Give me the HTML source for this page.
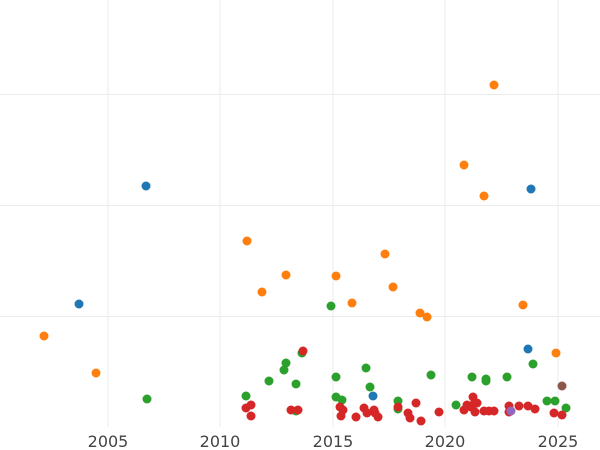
<!DOCTYPE html>
<html><head><meta charset="utf-8"><style>
html,body{margin:0;padding:0;background:#fff;width:600px;height:450px;overflow:hidden}
</style></head><body>
<svg width="600" height="450" xmlns="http://www.w3.org/2000/svg">
<g stroke="#ebebeb" stroke-width="1">
<line x1="0" y1="94.5" x2="600" y2="94.5"/><line x1="0" y1="205.5" x2="600" y2="205.5"/><line x1="0" y1="316.5" x2="600" y2="316.5"/>
<line x1="108" y1="0" x2="108" y2="427"/><line x1="220" y1="0" x2="220" y2="427"/><line x1="333" y1="0" x2="333" y2="427"/><line x1="445" y1="0" x2="445" y2="427"/><line x1="558" y1="0" x2="558" y2="427"/>
</g>
<g font-family="DejaVu Sans, Liberation Sans, sans-serif" font-size="16" fill="#444" text-anchor="middle">
<text x="108" y="447">2005</text><text x="220" y="447">2010</text><text x="333" y="447">2015</text><text x="445" y="447">2020</text><text x="558" y="447">2025</text>
</g>
<g fill="#ff7f0e">
<circle cx="44" cy="336" r="4.5"/><circle cx="96" cy="373" r="4.5"/><circle cx="247" cy="241" r="4.5"/><circle cx="262" cy="292" r="4.5"/><circle cx="286" cy="275" r="4.5"/><circle cx="336" cy="276" r="4.5"/><circle cx="352" cy="303" r="4.5"/><circle cx="385" cy="254" r="4.5"/><circle cx="393" cy="287" r="4.5"/><circle cx="420" cy="313" r="4.5"/><circle cx="427" cy="317" r="4.5"/><circle cx="464" cy="165" r="4.5"/><circle cx="484" cy="196" r="4.5"/><circle cx="494" cy="85" r="4.5"/><circle cx="523" cy="305" r="4.5"/><circle cx="556" cy="353" r="4.5"/>
</g>
<g fill="#1f77b4">
<circle cx="79" cy="304" r="4.5"/><circle cx="146" cy="186" r="4.5"/><circle cx="373" cy="396" r="4.5"/><circle cx="531" cy="189" r="4.5"/><circle cx="528" cy="349" r="4.5"/>
</g>
<g fill="#2ca02c">
<circle cx="147" cy="399" r="4.5"/><circle cx="246" cy="396" r="4.5"/><circle cx="269" cy="381" r="4.5"/><circle cx="284" cy="370" r="4.5"/><circle cx="286" cy="363" r="4.5"/><circle cx="296" cy="384" r="4.5"/><circle cx="302" cy="353" r="4.5"/><circle cx="296" cy="411" r="4.5"/><circle cx="331" cy="306" r="4.5"/><circle cx="336" cy="377" r="4.5"/><circle cx="336" cy="397" r="4.5"/><circle cx="342" cy="400" r="4.5"/><circle cx="366" cy="368" r="4.5"/><circle cx="370" cy="387" r="4.5"/><circle cx="398" cy="401" r="4.5"/><circle cx="398" cy="409" r="4.5"/><circle cx="431" cy="375" r="4.5"/><circle cx="456" cy="405" r="4.5"/><circle cx="472" cy="377" r="4.5"/><circle cx="486" cy="379" r="4.5"/><circle cx="486" cy="381" r="4.5"/><circle cx="507" cy="377" r="4.5"/><circle cx="533" cy="364" r="4.5"/><circle cx="547" cy="401" r="4.5"/><circle cx="555" cy="401" r="4.5"/><circle cx="566" cy="408" r="4.5"/>
</g>
<g fill="#d62728">
<circle cx="246" cy="408" r="4.5"/><circle cx="251" cy="405" r="4.5"/><circle cx="251" cy="416" r="4.5"/><circle cx="291" cy="410" r="4.5"/><circle cx="298" cy="410" r="4.5"/><circle cx="303" cy="351" r="4.5"/><circle cx="340" cy="407" r="4.5"/><circle cx="343" cy="410" r="4.5"/><circle cx="341" cy="416" r="4.5"/><circle cx="356" cy="417" r="4.5"/><circle cx="364" cy="408" r="4.5"/><circle cx="367" cy="413" r="4.5"/><circle cx="374" cy="410" r="4.5"/><circle cx="375" cy="413" r="4.5"/><circle cx="378" cy="417" r="4.5"/><circle cx="398" cy="407" r="4.5"/><circle cx="408" cy="413" r="4.5"/><circle cx="410" cy="418" r="4.5"/><circle cx="416" cy="403" r="4.5"/><circle cx="421" cy="421" r="4.5"/><circle cx="439" cy="412" r="4.5"/><circle cx="464" cy="410" r="4.5"/><circle cx="467" cy="405" r="4.5"/><circle cx="471" cy="407" r="4.5"/><circle cx="473" cy="397" r="4.5"/><circle cx="474" cy="404" r="4.5"/><circle cx="477" cy="403" r="4.5"/><circle cx="475" cy="412" r="4.5"/><circle cx="484" cy="411" r="4.5"/><circle cx="489" cy="411" r="4.5"/><circle cx="494" cy="411" r="4.5"/><circle cx="509" cy="406" r="4.5"/><circle cx="509" cy="412" r="4.5"/><circle cx="519" cy="406" r="4.5"/><circle cx="528" cy="406" r="4.5"/><circle cx="535" cy="409" r="4.5"/><circle cx="554" cy="413" r="4.5"/><circle cx="562" cy="415" r="4.5"/>
</g>
<circle cx="511" cy="411" r="4.5" fill="#9467bd"/>
<circle cx="562" cy="386" r="4.5" fill="#8c564b"/>
</svg>
</body></html>
